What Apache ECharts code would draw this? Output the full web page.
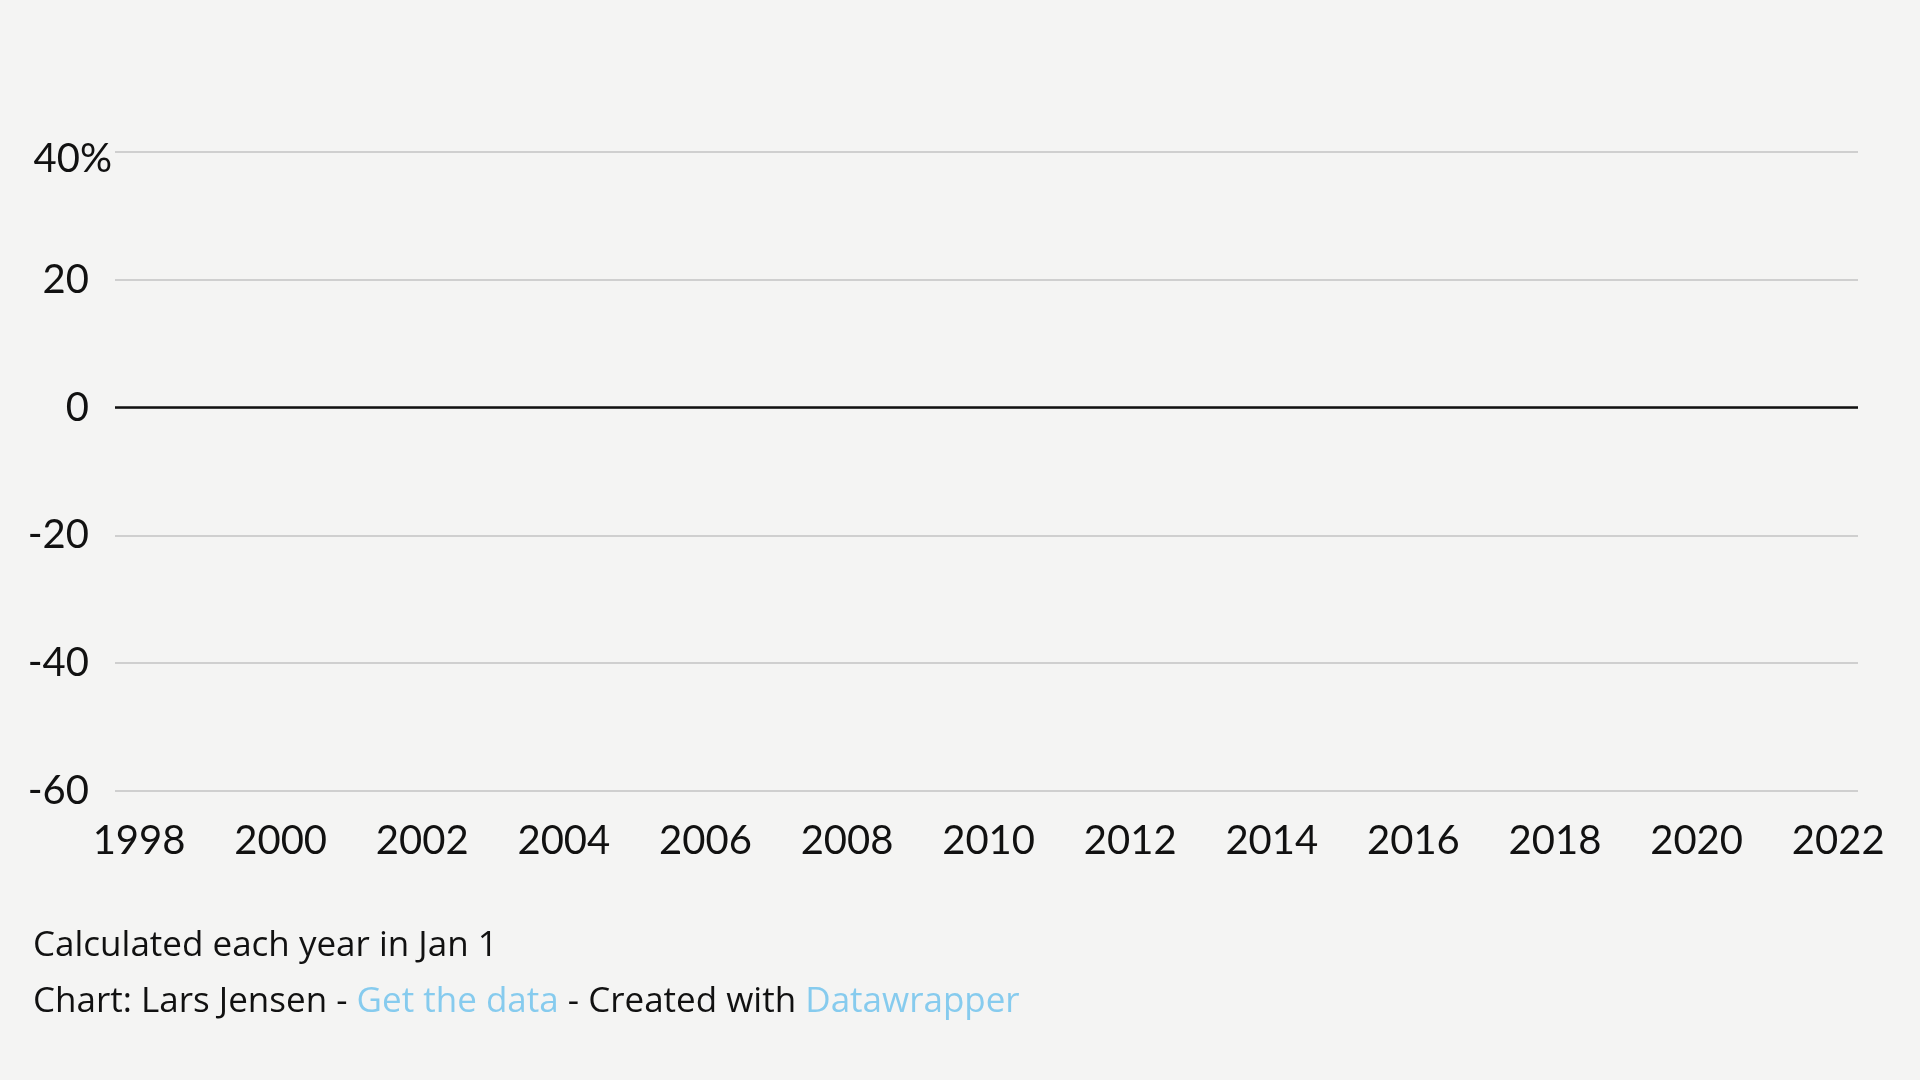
<!DOCTYPE html>
<html>
<head>
<meta charset="utf-8">
<script src="https://cdn.jsdelivr.net/npm/echarts@6/dist/echarts.min.js"></script>
<style>
html,body{margin:0;padding:0;background:#f4f4f3;}
#chart{width:1920px;height:1080px;}
</style>
</head>
<body>
<div id="chart"></div>
<script>
// ---- data ----
const xTickYears = [1998, 2000, 2002, 2004, 2006, 2008, 2010, 2012, 2014, 2016, 2018, 2020, 2022];
const yTickValues = [-60, -40, -20, 0, 20, 40];
const seriesValues = []; // no data points visible in the reference
const zeroLineValue = [0];
const footerNote = 'Calculated each year in Jan 1';
const footerCredit = ['Chart: Lars Jensen - ', 'Get the data', ' - Created with ', 'Datawrapper'];

const FONT = 'Lato, "Noto Sans", sans-serif';
const FOOT_FONT = '"Open Sans", Lato, sans-serif';
const FS = 35;
const chart = echarts.init(document.getElementById('chart'));
chart.setOption({
  backgroundColor: '#f4f4f3',
  animation: false,
  textStyle: { fontFamily: FONT },
  title: [
    {
      text: footerNote, left: 28, top: 920,
      textStyle: { fontFamily: FOOT_FONT, fontSize: FS, fontWeight: 'normal', color: '#111', lineHeight: 42 }
    },
    {
      text: '{b|' + footerCredit[0] + '}{l|' + footerCredit[1] + '}{b|' + footerCredit[2] + '}{l|' + footerCredit[3] + '}',
      left: 28, top: 976,
      textStyle: {
        fontFamily: FOOT_FONT, fontSize: FS, fontWeight: 'normal', color: '#111', lineHeight: 42,
        rich: {
          b: { fontFamily: FOOT_FONT, fontSize: FS, color: '#111', lineHeight: 42 },
          l: { fontFamily: FOOT_FONT, fontSize: FS, color: '#86cbee', lineHeight: 42 }
        }
      }
    }
  ],
  grid: { left: 115, right: 62, top: 152, bottom: 289, containLabel: false },
  xAxis: {
    type: 'value', min: 1997.66, max: 2022.28,
    axisLine: { show: false }, axisTick: { show: false }, splitLine: { show: false },
    axisLabel: {
      customValues: xTickYears, margin: 30, fontSize: 40, color: '#111', fontFamily: FONT,
      formatter: v => String(v)
    }
  },
  yAxis: [
    {
      type: 'value', min: -60, max: 40, interval: 20,
      axisLine: { show: false }, axisTick: { show: false },
      splitLine: { show: true, lineStyle: { color: '#cfcfcf', width: 2 } },
      axisLabel: {
        customValues: yTickValues.filter(v => v !== 40), margin: 26, fontSize: 40, color: '#111', fontFamily: FONT,
        formatter: v => String(v)
      }
    },
    {
      type: 'value', min: -60, max: 40, interval: 20, position: 'left',
      axisLine: { show: false }, axisTick: { show: false }, splitLine: { show: false },
      axisLabel: {
        customValues: yTickValues.filter(v => v === 40), margin: 3, fontSize: 40, color: '#111', fontFamily: FONT,
        verticalAlign: 'top', lineHeight: 14,
        formatter: v => v + '%'
      }
    }
  ],
  series: [
    {
      type: 'line', data: seriesValues, symbol: 'none', lineStyle: { color: '#d9412b', width: 3 },
      markLine: {
        silent: true, symbol: 'none', label: { show: false },
        lineStyle: { color: '#111', width: 2.5, type: 'solid' },
        data: zeroLineValue.map(v => ({ yAxis: v }))
      }
    }
  ]
});
</script>
</body>
</html>
